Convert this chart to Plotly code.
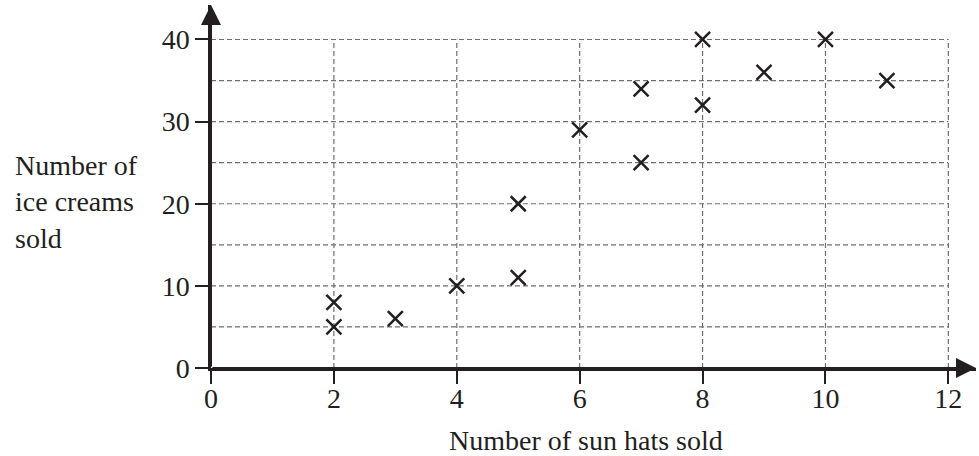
import plotly.graph_objects as go

sun_hats = [2, 2, 3, 4, 5, 5, 6, 7, 7, 8, 8, 9, 10, 11]
ice_creams = [8, 5, 6, 10, 11, 20, 29, 34, 25, 40, 32, 36, 40, 35]

x_ticks = [0, 2, 4, 6, 8, 10, 12]
y_ticks = [0, 10, 20, 30, 40]
x_grid = [2, 4, 6, 8, 10, 12]
y_grid = [5, 10, 15, 20, 25, 30, 35, 40]

X_MAX, Y_MAX = 12, 40
X_END, Y_END = 12.45, 44.2

FONT = "Liberation Serif, Times New Roman, serif"
INK = "#231f20"
GRID = "#6f6f6f"
FS = 28

fig = go.Figure()

fig.add_trace(go.Scatter(
    x=sun_hats, y=ice_creams, mode="markers",
    marker=dict(symbol="x-thin", size=15, line=dict(width=2.5, color=INK), color=INK),
    showlegend=False, hoverinfo="x+y",
))

shapes = []
for gx in x_grid:
    shapes.append(dict(type="line", xref="x", yref="y", x0=gx, x1=gx, y0=0, y1=Y_MAX,
                       line=dict(color=GRID, width=1.2, dash="5px,3px"), layer="below"))
for gy in y_grid:
    shapes.append(dict(type="line", xref="x", yref="y", x0=0, x1=X_MAX, y0=gy, y1=gy,
                       line=dict(color=GRID, width=1.2, dash="5px,3px"), layer="below"))

annotations = [
    dict(x=X_END, y=0, ax=0, ay=0, xref="x", yref="y", axref="x", ayref="y",
         showarrow=True, arrowhead=2, arrowsize=2.0, arrowwidth=2, arrowcolor=INK, text=""),
    dict(x=0, y=Y_END, ax=0, ay=0, xref="x", yref="y", axref="x", ayref="y",
         showarrow=True, arrowhead=2, arrowsize=2.0, arrowwidth=2, arrowcolor=INK, text=""),
    dict(text="Number of<br>ice creams<br>sold", xref="paper", yref="paper",
         x=-0.259, y=0.457, xanchor="left", yanchor="middle", align="left",
         showarrow=False, font=dict(family=FONT, size=FS, color=INK)),
    dict(text="Number of sun hats sold", xref="paper", yref="paper",
         x=0.49, y=-0.201, xanchor="center", yanchor="middle",
         showarrow=False, font=dict(family=FONT, size=FS, color=INK)),
]

fig.update_layout(
    width=979, height=456,
    margin=dict(l=211, r=3, t=5, b=88),
    paper_bgcolor="white", plot_bgcolor="white",
    shapes=shapes, annotations=annotations,
    xaxis=dict(range=[0, X_END], tickvals=x_ticks, ticktext=[str(v) for v in x_ticks],
               showgrid=False, zeroline=False, showline=True, linewidth=2.5, linecolor=INK,
               ticks="outside", ticklen=13, tickwidth=2, tickcolor=INK,
               ticklabelstandoff=-9,
               tickfont=dict(family=FONT, size=FS, color=INK)),
    yaxis=dict(range=[0, Y_END], tickvals=y_ticks, ticktext=[str(v) for v in y_ticks],
               showgrid=False, zeroline=False, showline=True, linewidth=2.5, linecolor=INK,
               ticks="outside", ticklen=13, tickwidth=2, tickcolor=INK,
               tickfont=dict(family=FONT, size=FS, color=INK)),
)

fig.write_html("out.html", config={"displayModeBar": False},
               post_script="document.body.style.margin='0';")
